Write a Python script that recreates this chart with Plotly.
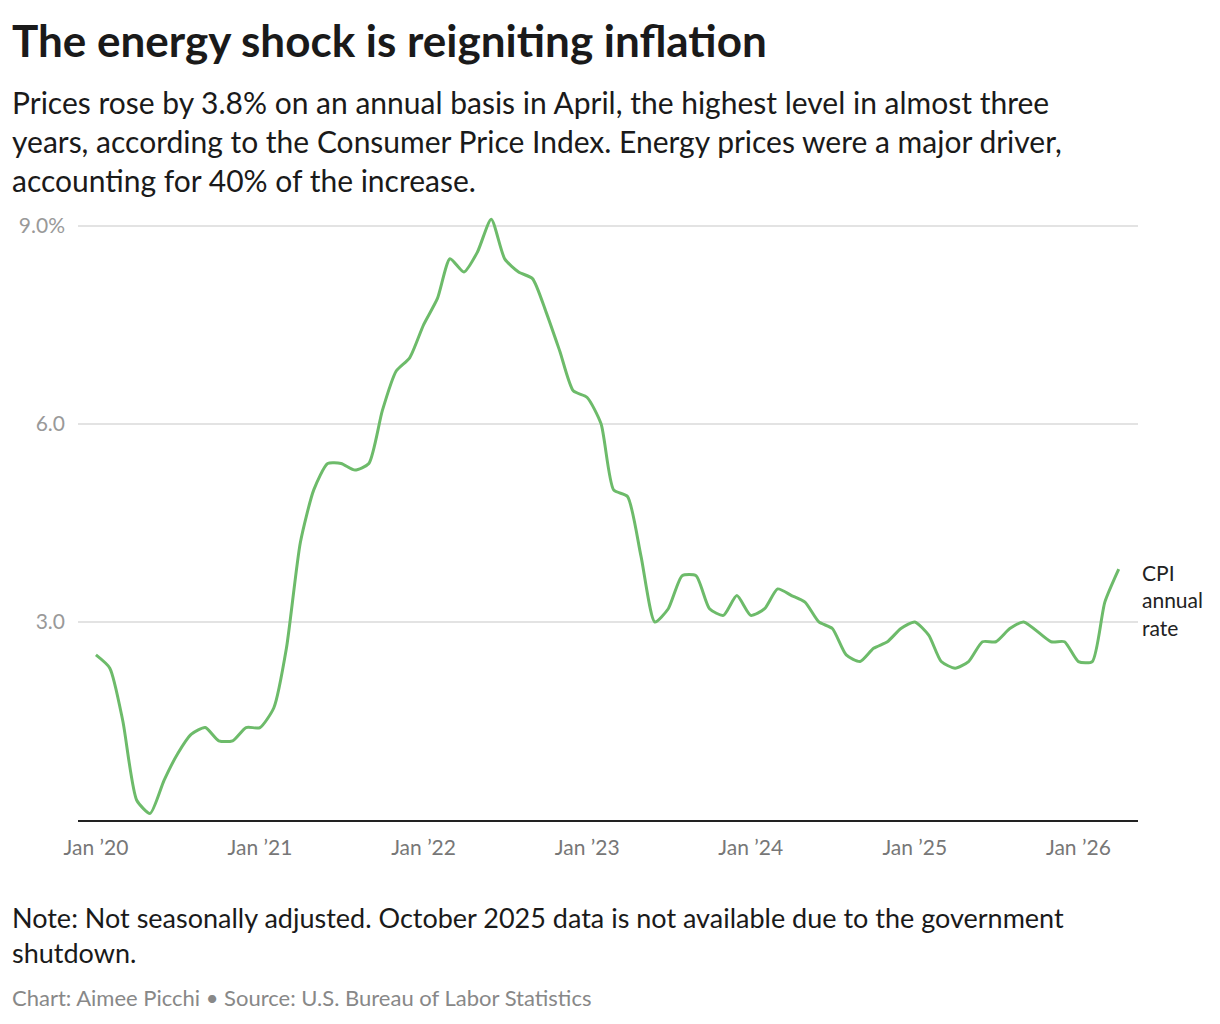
import plotly.graph_objects as go

months = [f"{y}-{m:02d}-01" for y in range(2020, 2027) for m in range(1, 13)][:76]
cpi = [2.5, 2.3, 1.5, 0.3, 0.1, 0.6, 1.0, 1.3, 1.4, 1.2, 1.2, 1.4,
       1.4, 1.7, 2.6, 4.2, 5.0, 5.4, 5.4, 5.3, 5.4, 6.2, 6.8, 7.0,
       7.5, 7.9, 8.5, 8.3, 8.6, 9.1, 8.5, 8.3, 8.2, 7.7, 7.1, 6.5,
       6.4, 6.0, 5.0, 4.9, 4.0, 3.0, 3.2, 3.7, 3.7, 3.2, 3.1, 3.4,
       3.1, 3.2, 3.5, 3.4, 3.3, 3.0, 2.9, 2.5, 2.4, 2.6, 2.7, 2.9,
       3.0, 2.8, 2.4, 2.3, 2.4, 2.7, 2.7, 2.9, 3.0, None, 2.7, 2.7,
       2.4, 2.4, 3.3, 3.8]
x_tickvals = [f"{y}-01-01" for y in range(2020, 2027)]
x_ticktext = [f"Jan ’{y % 100}" for y in range(2020, 2027)]
y_tickvals = [3, 6, 9]
y_ticktext = ["3.0", "6.0", "9.0%"]

L, R, T, B = 70, 90, 198, 212
W, H = 1220, 1024
PW, PH = W - L - R, H - T - B

fig = go.Figure(go.Scatter(x=months, y=cpi, mode="lines", connectgaps=True,
                           line=dict(color="#6dbb6a", width=3, shape="spline", smoothing=0.6),
                           hoverinfo="x+y"))
fig.update_layout(
    width=W, height=H, plot_bgcolor="white", paper_bgcolor="white",
    margin=dict(l=L, r=R, t=T, b=B), showlegend=False,
    font=dict(family="Lato", color="#222"),
    xaxis=dict(range=["2019-11-22", "2026-05-14"], tickvals=x_tickvals, ticktext=x_ticktext,
               showgrid=False, showline=True, linecolor="#222", linewidth=1.5,
               tickfont=dict(size=21, color="#777"), ticks="", ticklabelstandoff=8),
    yaxis=dict(range=[0, 9.3], tickvals=y_tickvals, ticktext=y_ticktext, showgrid=True,
               gridcolor="#e3e3e3", gridwidth=1.5, zeroline=False, ticks="",
               tickfont=dict(size=21, color="#999"), ticklabelstandoff=12),
)
ann = [
    ("<b>The energy shock is reigniting inflation</b>", 2, 4, 44, "#1a1a1a"),
    ("Prices rose by 3.8% on an annual basis in April, the highest level in almost three<br>years, according to the Consumer Price Index. Energy prices were a major driver,<br>accounting for 40% of the increase.", 2, 74, 30, "#1a1a1a"),
    ("Note: Not seasonally adjusted. October 2025 data is not available due to the government<br>shutdown.", 2, 891, 27, "#1a1a1a"),
    ("Chart: Aimee Picchi • Source: U.S. Bureau of Labor Statistics", 2, 974, 22, "#888"),
    ("CPI<br>annual<br>rate", 1132, 550, 21, "#222"),
]
for text, fx, fy, size, color in ann:
    fig.add_annotation(text=text, x=(fx - L) / PW, y=(H - B - fy) / PH, xref="paper", yref="paper",
                       xanchor="left", yanchor="top", showarrow=False, align="left",
                       font=dict(size=size, color=color, family="Lato"))
fig.write_html("out.html")
